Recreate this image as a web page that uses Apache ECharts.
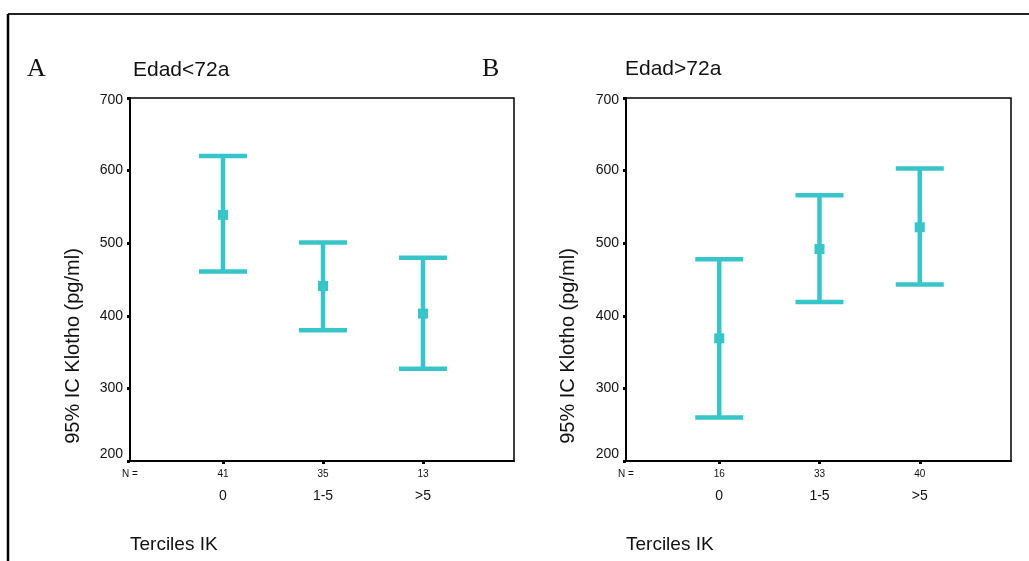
<!DOCTYPE html>
<html>
<head>
<meta charset="utf-8">
<script src="https://cdn.jsdelivr.net/npm/echarts@6/dist/echarts.min.js"></script>
<style>
  html, body { margin: 0; padding: 0; background: #fff; }
  #chart { width: 1029px; height: 561px; }
</style>
</head>
<body>
<div id="chart"></div>
<script>
// terciles IK
const categories = ['0', '1-5', '>5']
const yTicks = [200, 300, 400, 500, 600, 700]

// panel A: Edad<72a
const nA = [41, 35, 13]
const meanA = [539, 441, 403]
const lowA = [461, 380, 327]
const highA = [620, 501, 480]

// panel B: Edad>72a
const nB = [16, 33, 40]
const meanB = [369, 492, 522]
const lowB = [260, 419, 443]
const highB = [478, 566, 603]

const teal = '#37c5ca'
const font = 'Liberation Sans, Arial, sans-serif'
const xMin = 0.07
const xMax = 3.91

function xAxisFor(grid, nList) {
  return {
    type: 'value',
    gridIndex: grid,
    min: xMin,
    max: xMax,
    splitLine: { show: false },
    axisLine: { lineStyle: { color: '#000', width: 2 } },
    axisTick: {
      customValues: [1, 2, 3],
      length: 3,
      lineStyle: { color: '#000', width: 3 }
    },
    axisLabel: {
      customValues: [xMin, 1, 2, 3],
      margin: 6,
      formatter: function (v) {
        const k = Math.round(v) - 1
        if (k < 0) return '{n|N =}\n{c| }'
        return '{n|' + nList[k] + '}\n{c|' + categories[k] + '}'
      },
      rich: {
        n: { fontSize: 10, lineHeight: 14, color: '#111', fontFamily: font },
        c: { fontSize: 14, lineHeight: 31, color: '#111', fontFamily: font }
      }
    }
  }
}

function yAxisFor(grid) {
  return {
    type: 'value',
    gridIndex: grid,
    min: 200,
    max: 700,
    interval: 100,
    splitLine: { show: false },
    axisLine: { show: true, lineStyle: { color: '#000', width: 2 } },
    axisTick: { length: 3, lineStyle: { color: '#000', width: 3 } },
    axisLabel: {
      margin: 7,
      formatter: function (v) {
        if (v === yTicks[0]) return '{lo|' + v + '}'
        if (v === yTicks[yTicks.length - 1]) return '{hi|' + v + '}'
        return '{m|' + v + '}'
      },
      rich: {
        m: { fontSize: 14, color: '#111', fontFamily: font },
        lo: { fontSize: 14, color: '#111', fontFamily: font, padding: [0, 0, 14, 0] },
        hi: { fontSize: 14, color: '#111', fontFamily: font, padding: [5, 0, 0, 0] }
      }
    }
  }
}

function errorBars(xIdx, low, high) {
  return {
    type: 'custom',
    xAxisIndex: xIdx,
    yAxisIndex: xIdx,
    silent: true,
    data: low.map((l, i) => [i + 1, l, high[i]]),
    renderItem: function (params, api) {
      const lo = api.coord([api.value(0), api.value(1)])
      const hi = api.coord([api.value(0), api.value(2)])
      const half = 24
      const st = { stroke: teal, lineWidth: 4.5 }
      return {
        type: 'group',
        children: [
          { type: 'line', shape: { x1: lo[0], y1: lo[1], x2: hi[0], y2: hi[1] }, style: st },
          { type: 'line', shape: { x1: lo[0] - half, y1: lo[1], x2: lo[0] + half, y2: lo[1] }, style: st },
          { type: 'line', shape: { x1: hi[0] - half, y1: hi[1], x2: hi[0] + half, y2: hi[1] }, style: st }
        ]
      }
    }
  }
}

function means(xIdx, vals) {
  return {
    type: 'scatter',
    xAxisIndex: xIdx,
    yAxisIndex: xIdx,
    symbol: 'rect',
    symbolSize: 10,
    itemStyle: { color: teal, opacity: 1 },
    z: 5,
    data: vals.map((v, i) => [i + 1, v])
  }
}

function txt(x, y, s, size, family) {
  return {
    type: 'text',
    x: x,
    y: y,
    style: {
      text: s,
      fontSize: size,
      fontFamily: family || font,
      fill: '#111',
      textVerticalAlign: 'middle'
    }
  }
}

function yName(x) {
  return {
    type: 'text', x: x, y: 346, rotation: Math.PI / 2,
    style: { text: '95% IC Klotho (pg/ml)', fontSize: 20, fontFamily: font, fill: '#111', textAlign: 'center', textVerticalAlign: 'middle' }
  }
}

const serif = 'Liberation Serif, Times New Roman, serif'

const chart = echarts.init(document.getElementById('chart'))
chart.setOption({
  backgroundColor: '#fff',
  animation: false,
  grid: [
    { left: 130, top: 98, width: 384, height: 363, show: true, borderColor: '#000', borderWidth: 1.5, backgroundColor: 'transparent' },
    { left: 626, top: 98, width: 385, height: 363, show: true, borderColor: '#000', borderWidth: 1.5, backgroundColor: 'transparent' }
  ],
  xAxis: [xAxisFor(0, nA), xAxisFor(1, nB)],
  yAxis: [yAxisFor(0), yAxisFor(1)],
  series: [
    errorBars(0, lowA, highA),
    means(0, meanA),
    errorBars(1, lowB, highB),
    means(1, meanB)
  ],
  graphic: [
    // outer frame (top and left edges)
    { type: 'line', shape: { x1: 8, y1: 14, x2: 1029, y2: 14 }, style: { stroke: '#222', lineWidth: 2 } },
    { type: 'line', shape: { x1: 8, y1: 14, x2: 8, y2: 561 }, style: { stroke: '#000', lineWidth: 2.5 } },
    txt(27, 69, 'A', 26, serif),
    txt(482, 69, 'B', 26, serif),
    txt(133, 70, 'Edad<72a', 21),
    txt(625, 69, 'Edad>72a', 21),
    txt(130, 545, 'Terciles IK', 19),
    txt(626, 545, 'Terciles IK', 19),
    yName(73),
    yName(568)
  ]
})
</script>
</body>
</html>
